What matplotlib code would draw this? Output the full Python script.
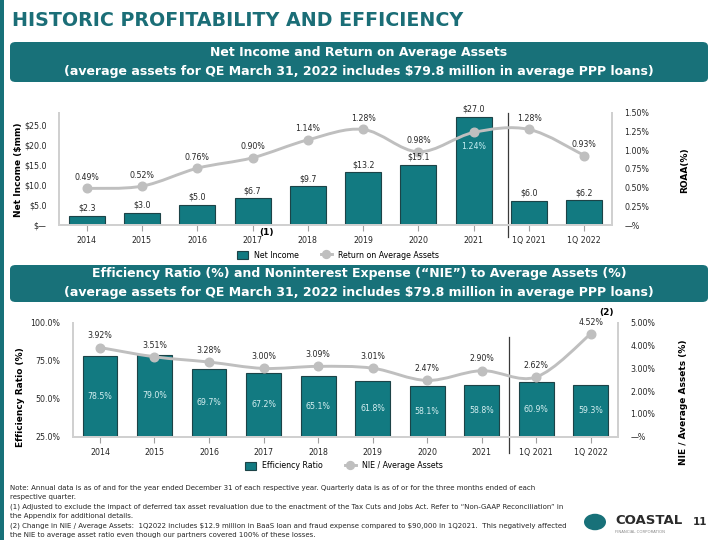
import numpy as np
import matplotlib
matplotlib.use("Agg")
import matplotlib.pyplot as plt
from matplotlib.path import Path
from matplotlib.patches import PathPatch, FancyBboxPatch, Rectangle, Circle
from matplotlib.lines import Line2D
import matplotlib.transforms as mtransforms

# ---- data ----
categories = ["2014", "2015", "2016", "2017", "2018", "2019", "2020", "2021", "1Q 2021", "1Q 2022"]
net_income = [2.3, 3.0, 5.0, 6.7, 9.7, 13.2, 15.1, 27.0, 6.0, 6.2]
roaa = [0.49, 0.52, 0.76, 0.90, 1.14, 1.28, 0.98, 1.24, 1.28, 0.93]
efficiency_ratio = [78.5, 79.0, 69.7, 67.2, 65.1, 61.8, 58.1, 58.8, 60.9, 59.3]
nie_avg_assets = [3.92, 3.51, 3.28, 3.00, 3.09, 3.01, 2.47, 2.90, 2.62, 4.52]

ni_ticks = [0, 5, 10, 15, 20, 25]
roaa_ticks = [0, 0.25, 0.5, 0.75, 1.0, 1.25, 1.5]
er_ticks = [25, 50, 75, 100]
nie_ticks = [0, 1, 2, 3, 4, 5]

TEAL = "#127a81"
TEAL_DARK = "#1c4347"
BANNER = "#187179"
TITLE_C = "#1b6e77"
GRAY = "#bfbfbf"
SPINE = "#d0d0d0"
TXT = "#262626"
FS = 5.7
LW = 2.1
MS = 6.2

plt.rcParams["font.family"] = ["DejaVu Sans"]

W, H = 720, 540
fig = plt.figure(figsize=(7.2, 5.4), dpi=100)


def fx(px):
    return px / W


def fy(py):
    return 1 - py / H


def smooth_path(xs, ys):
    # Catmull-Rom style smoothed line through the points (like Excel's smoothed line)
    pts = np.column_stack([xs, ys]).astype(float)
    n = len(pts)
    verts = [pts[0]]
    codes = [Path.MOVETO]
    for i in range(n - 1):
        p0 = pts[i - 1] if i > 0 else pts[i]
        p1, p2 = pts[i], pts[i + 1]
        p3 = pts[i + 2] if i + 2 < n else pts[i + 1]
        verts += [p1 + (p2 - p0) / 6, p2 - (p3 - p1) / 6, p2]
        codes += [Path.CURVE4] * 3
    return Path(verts, codes)


def style_axes(ax, ax2):
    for a in (ax, ax2):
        a.spines["top"].set_visible(False)
        for s in ("left", "right", "bottom"):
            a.spines[s].set_color(SPINE)
            a.spines[s].set_linewidth(1.4)
        a.tick_params(axis="y", length=0, pad=9, labelsize=FS, colors=TXT)
        a.set_facecolor("none")
    ax.tick_params(axis="x", length=4, width=0.8, color="#a0a0a0", pad=4, labelsize=FS, labelcolor=TXT)
    ax2.tick_params(axis="x", length=0)


def legend(labels, center):
    fig.legend(handles=[Rectangle((0, 0), 1, 1, fc=TEAL, ec=TEAL_DARK, lw=0.8),
                        Line2D([], [], color=GRAY, lw=LW, marker="o", ms=MS - 0.5)],
               labels=labels, loc="center", bbox_to_anchor=center, ncol=2, frameon=False,
               fontsize=FS, handlelength=1.4, handleheight=1.1, columnspacing=2.7,
               handletextpad=0.8)


# ---- page decorations ----
fig.add_artist(Rectangle((0, 0), fx(3.5), 1, transform=fig.transFigure, color=BANNER, lw=0))
fig.text(fx(12), fy(20), "HISTORIC PROFITABILITY AND EFFICIENCY", fontsize=13.7,
         fontweight="bold", color=TITLE_C, va="center", ha="left")


def banner(top, bottom, line1, line2):
    fig.add_artist(FancyBboxPatch((fx(10), fy(bottom)), fx(708) - fx(10), fy(top) - fy(bottom),
                                  boxstyle="round,pad=0,rounding_size=0.008",
                                  transform=fig.transFigure, fc=BANNER, ec="none"))
    mid = (top + bottom) / 2
    fig.text(0.5 * (fx(10) + fx(708)), fy(mid - 9.5), line1, color="white", fontsize=9.0,
             fontweight="bold", ha="center", va="center")
    fig.text(0.5 * (fx(10) + fx(708)), fy(mid + 9), line2, color="white", fontsize=9.0,
             fontweight="bold", ha="center", va="center")


banner(42, 82, "Net Income and Return on Average Assets",
       "(average assets for QE March 31, 2022 includes $79.8 million in average PPP loans)")
banner(265, 302, "Efficiency Ratio (%) and Noninterest Expense (\u201cNIE\u201d) to Average Assets (%)",
       "(average assets for QE March 31, 2022 includes $79.8 million in average PPP loans)")

x = np.arange(len(categories))

# ---- top chart: net income + ROAA ----
ax1 = fig.add_axes([fx(59), fy(225), fx(612) - fx(59), fy(113) - fy(225)])
ax1b = ax1.twinx()
ax1.bar(x, net_income, width=0.65, color=TEAL, edgecolor=TEAL_DARK, linewidth=0.8, zorder=2)
ax1.set_xlim(-0.5, len(categories) - 0.5)
ax1.set_ylim(0, 28)
ax1.set_yticks(ni_ticks)
ax1.set_yticklabels(["$\u2014" if t == 0 else f"${t:.1f}" for t in ni_ticks])
ax1.set_xticks(x)
ax1.set_xticklabels(categories)

ax1b.set_ylim(0, 1.5)
ax1b.set_yticks(roaa_ticks)
ax1b.set_yticklabels(["\u2014%" if t == 0 else f"{t:.2f}%" for t in roaa_ticks])
ax1b.add_patch(PathPatch(smooth_path(x, roaa), fill=False, ec=GRAY, lw=LW, zorder=3))
ax1b.plot(x, roaa, "o", color=GRAY, ms=MS, zorder=4)
# bar labels drawn on the twin axes so they sit above the line
for xi, v in zip(x, net_income):
    ax1b.annotate(f"${v:.1f}", (xi, v), xycoords=ax1.transData, xytext=(0, 2.3),
                  textcoords="offset points", ha="center", va="bottom", fontsize=FS,
                  color=TXT, zorder=5)
for xi, v in zip(x, roaa):
    if categories[xi] == "2021":
        ax1b.annotate(f"{v:.2f}%", (xi, v), xytext=(0, -10), textcoords="offset points",
                      ha="center", va="center", fontsize=FS, color="#c4edf1")
    else:
        ax1b.annotate(f"{v:.2f}%", (xi, v), xytext=(0, 8), textcoords="offset points",
                      ha="center", va="center", fontsize=FS, color=TXT)
style_axes(ax1, ax1b)
fig.text(fx(19), fy(170), "Net Income ($mm)", rotation=90, fontsize=6.5, fontweight="bold",
         ha="center", va="center")
fig.text(fx(685), fy(170), "ROAA(%)", rotation=90, fontsize=6.5, fontweight="bold",
         ha="center", va="center")
sep1 = mtransforms.blended_transform_factory(ax1.transData, ax1.transAxes)
ax1.plot([7.62, 7.62], [-0.11, 1.0], color="#3a3a3a", lw=0.9, transform=sep1, clip_on=False)
fig.text(fx(267), fy(232), "(1)", fontsize=6.5, fontweight="bold", ha="center", va="center")
legend(["Net Income", "Return on Average Assets"], (fx(338), fy(255)))

# ---- bottom chart: efficiency ratio + NIE / avg assets ----
ax2 = fig.add_axes([fx(72.7), fy(436.5), fx(618) - fx(72.7), fy(323) - fy(436.5)])
ax2b = ax2.twinx()
ax2.bar(x, [v - 25 for v in efficiency_ratio], bottom=25, width=0.64, color=TEAL,
        edgecolor=TEAL_DARK, linewidth=0.8, zorder=2)
ax2.set_xlim(-0.5, len(categories) - 0.5)
ax2.set_ylim(25, 100)
ax2.set_yticks(er_ticks)
ax2.set_yticklabels([f"{t:.1f}%" for t in er_ticks])
ax2.set_xticks(x)
ax2.set_xticklabels(categories)
for xi, v in zip(x, efficiency_ratio):
    ax2.text(xi, (v + 25) / 2, f"{v:.1f}%", ha="center", va="center", fontsize=FS,
             color="#d5eff1", zorder=3)

ax2b.set_ylim(0, 5)
ax2b.set_yticks(nie_ticks)
ax2b.set_yticklabels(["\u2014%" if t == 0 else f"{t:.2f}%" for t in nie_ticks])
ax2b.add_patch(PathPatch(smooth_path(x, nie_avg_assets), fill=False, ec=GRAY, lw=LW, zorder=3))
ax2b.plot(x, nie_avg_assets, "o", color=GRAY, ms=MS, zorder=4)
for xi, v in zip(x, nie_avg_assets):
    ax2b.annotate(f"{v:.2f}%", (xi, v), xytext=(0, 8.5), textcoords="offset points",
                  ha="center", va="center", fontsize=FS, color=TXT)
style_axes(ax2, ax2b)
fig.text(fx(21), fy(397), "Efficiency Ratio (%)", rotation=90, fontsize=6.5, fontweight="bold",
         ha="center", va="center")
fig.text(fx(684), fy(402), "NIE / Average Assets (%)", rotation=90, fontsize=6.5,
         fontweight="bold", ha="center", va="center")
sep2 = mtransforms.blended_transform_factory(ax2.transData, ax2.transAxes)
ax2.plot([7.5, 7.5], [-0.145, 0.877], color="#3a3a3a", lw=0.9, transform=sep2, clip_on=False)
fig.text(fx(606), fy(312), "(2)", fontsize=6.5, fontweight="bold", ha="center", va="center")
legend(["Efficiency Ratio", "NIE / Average Assets"], (fx(344), fy(466)))

# ---- notes ----
notes = [
    (488, "Note: Annual data is as of and for the year ended December 31 of each respective year. Quarterly data is as of or for the three months ended of each"),
    (497, "respective quarter."),
    (507, "(1) Adjusted to exclude the impact of deferred tax asset revaluation due to the enactment of the Tax Cuts and Jobs Act. Refer to \u201cNon-GAAP Reconciliation\u201d in"),
    (516, "the Appendix for additional details."),
    (526, "(2) Change in NIE / Average Assets:  1Q2022 includes \\$12.9 million in BaaS loan and fraud expense compared to \\$90,000 in 1Q2021.  This negatively affected"),
    (535, "the NIE to average asset ratio even though our partners covered 100% of these losses."),
]
for py, line in notes:
    fig.text(fx(10), fy(py), line, fontsize=5.0, family=["Liberation Sans Narrow", "DejaVu Sans"],
             color=TXT, ha="left", va="center")

# ---- logo / page number ----
fig.add_artist(Circle((fx(595), fy(522)), fx(11), transform=fig.transFigure, color=BANNER, lw=0))
fig.text(fx(615), fy(521), "COASTAL", fontsize=9.5, fontweight="bold", color="#2b2b2b",
         ha="left", va="center")
fig.text(fx(615), fy(532), "FINANCIAL CORPORATION", fontsize=2.8, color="#8a8a8a",
         ha="left", va="center")
fig.text(fx(700), fy(522), "11", fontsize=7.5, fontweight="bold", color="#2b2b2b",
         ha="center", va="center")

fig.savefig("out.png", dpi=100)
